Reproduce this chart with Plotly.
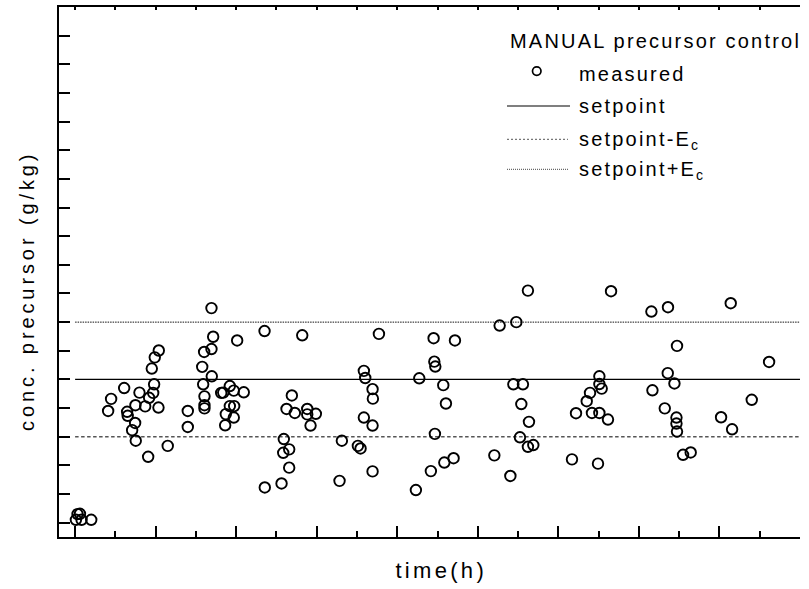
import plotly.graph_objects as go

# ---------------- data ----------------
time_h = [
    0.01, 0.08, 0.20, 0.03, 0.06,
    0.41, 0.447, 0.609, 0.646, 0.653, 0.708, 0.745, 0.753, 0.749, 0.799,
    0.870, 0.907, 0.919, 0.952, 0.969, 0.981, 0.989, 1.039, 1.035, 1.150,
    1.399, 1.399, 1.578, 1.590, 1.606, 1.606, 1.606, 1.602, 1.693, 1.714,
    1.697, 1.693, 1.814, 1.839, 1.863, 1.871, 1.921, 1.921, 1.970, 1.975,
    1.970, 2.012, 2.094, 2.352, 2.355,
    2.563, 2.591, 2.584, 2.658, 2.658, 2.625, 2.691, 2.728, 2.820, 2.882,
    2.882, 2.923, 2.989, 3.283, 3.312, 3.511, 3.544, 3.585, 3.585, 3.602,
    3.693, 3.697, 3.693, 3.693, 3.772, 4.231, 4.273, 4.417, 4.451, 4.460,
    4.472, 4.467, 4.571, 4.604, 4.584, 4.699, 4.716, 5.205, 5.271, 5.404,
    5.478, 5.441, 5.560, 5.540, 5.523, 5.622, 5.635, 5.622, 5.689,
    6.654, 6.169, 6.219, 6.352, 6.393, 6.417, 6.492, 6.509, 6.509, 6.538,
    6.509, 6.616, 7.155, 7.361, 7.168, 7.358, 7.441, 7.473, 7.321, 7.466,
    7.466, 7.473, 7.548, 7.643, 8.140, 8.020, 8.157, 8.401, 8.616,
]
conc_measured = [
    1.10, 1.10, 1.10, 1.30, 1.31,
    4.90, 5.32, 5.70, 4.87, 4.73, 4.23, 4.48, 3.86, 5.10, 5.54,
    5.06, 3.30, 5.36, 6.38, 5.53, 5.83, 6.77, 7.01, 5.02, 3.68,
    4.90, 4.34, 6.44, 5.83, 5.41, 5.10, 4.99, 6.96, 7.06, 7.49,
    6.11, 8.49, 5.53, 5.54, 4.40, 4.79, 5.77, 5.07, 5.61, 5.07,
    4.67, 7.36, 5.55, 7.69, 2.23,
    2.37, 3.92, 3.44, 3.56, 2.92, 4.97, 5.44, 4.83, 7.54, 4.97,
    4.78, 4.39, 4.80, 2.46, 3.86, 3.68, 3.59, 4.67, 6.30, 6.05,
    5.66, 5.33, 4.39, 2.79, 7.59, 2.14, 6.04, 2.80, 7.44, 6.62,
    6.45, 4.10, 5.80, 5.16, 3.10, 3.25, 7.36, 3.35, 7.88, 2.63,
    8.00, 5.83, 5.83, 5.14, 3.98, 9.10, 4.52, 3.65, 3.71,
    9.08, 3.21, 4.82, 5.24, 5.53, 4.83, 3.06, 6.11, 5.84, 5.68,
    4.83, 4.60, 8.37, 8.52, 5.62, 6.22, 5.86, 7.17, 4.99, 4.67,
    4.46, 4.18, 3.37, 3.45, 8.66, 4.68, 4.26, 5.29, 6.61,
]
setpoint_value = 6.0
ec_value = 2.0
line_time = [0.0, 9.0]

legend_title = "MANUAL precursor control"
series_names = ["measured", "setpoint", "setpoint-E<sub>c</sub>", "setpoint+E<sub>c</sub>"]
x_title = "time(h)"
y_title = "conc. precursor (g/kg)"

FONT = "Liberation Sans, Arial, sans-serif"

# ---------------- figure ----------------
fig = go.Figure()

fig.add_trace(go.Scatter(
    x=line_time, y=[setpoint_value] * len(line_time), mode="lines",
    name="setpoint", line=dict(color="black", width=1.2), showlegend=False,
    hoverinfo="skip"))
fig.add_trace(go.Scatter(
    x=line_time, y=[setpoint_value - ec_value] * len(line_time), mode="lines",
    name="setpoint-Ec", line=dict(color="#555555", width=1.5, dash="3.5px,2.5px"),
    showlegend=False, hoverinfo="skip"))
fig.add_trace(go.Scatter(
    x=line_time, y=[setpoint_value + ec_value] * len(line_time), mode="lines",
    name="setpoint+Ec", line=dict(color="#111111", width=1.0, dash="1.5px,1px"),
    showlegend=False, hoverinfo="skip"))
fig.add_trace(go.Scatter(
    x=time_h, y=conc_measured, mode="markers", name="measured",
    marker=dict(symbol="circle-open", size=10.5, color="black",
                line=dict(width=1.9, color="black")),
    showlegend=False))

# ---------------- geometry helpers for the hand-drawn legend ----------------
W, H = 809, 589
ML, MR, MT, MB = 59, 9, 7, 52
PW, PH = W - ML - MR, H - MT - MB


def px_x(p):
    return (p - ML) / PW


def px_y(p):
    return (H - MB - p) / PH


annotations = []
shapes = []

annotations.append(dict(
    text=legend_title, xref="paper", yref="paper", x=px_x(508), y=px_y(41),
    xanchor="left", yanchor="middle", align="left", showarrow=False,
    font=dict(family=FONT, size=20, color="black")))

text_left = px_x(577)
row_y = [74, 106, 140, 170]
for name, yy in zip(series_names, row_y):
    annotations.append(dict(
        text=name, xref="paper", yref="paper", x=text_left, y=px_y(yy),
        xanchor="left", yanchor="middle", align="left", showarrow=False,
        font=dict(family=FONT, size=20, color="black")))

# axis titles (placed as annotations to match the reference position)
annotations.append(dict(
    text=y_title, xref="paper", yref="paper", x=px_x(27), y=px_y(291),
    xanchor="center", yanchor="middle", textangle=-90, showarrow=False,
    font=dict(family=FONT, size=20, color="black")))
ytitle_idx = len(annotations) - 1
annotations.append(dict(
    text=x_title, xref="paper", yref="paper", x=px_x(441), y=px_y(570),
    xanchor="center", yanchor="middle", showarrow=False,
    font=dict(family=FONT, size=22, color="black")))
xtitle_idx = len(annotations) - 1

# legend symbol samples
shapes.append(dict(type="circle", xref="paper", yref="paper",
                   x0=px_x(532.5), x1=px_x(541), y0=px_y(75.3), y1=px_y(66.8),
                   line=dict(color="black", width=1.7)))
shapes.append(dict(type="line", xref="paper", yref="paper",
                   x0=px_x(507), x1=px_x(570), y0=px_y(106), y1=px_y(106),
                   line=dict(color="black", width=1.2)))
shapes.append(dict(type="line", xref="paper", yref="paper",
                   x0=px_x(507), x1=px_x(568), y0=px_y(139.3), y1=px_y(139.3),
                   line=dict(color="#555555", width=1.0, dash="2px,2px")))
shapes.append(dict(type="line", xref="paper", yref="paper",
                   x0=px_x(507), x1=px_x(568), y0=px_y(169.3), y1=px_y(169.3),
                   line=dict(color="#444444", width=1.0, dash="1px,1px")))

fig.update_layout(
    width=W, height=H,
    margin=dict(l=ML, r=MR, t=MT, b=MB, pad=0),
    paper_bgcolor="white", plot_bgcolor="white",
    font=dict(family=FONT, color="black"),
    showlegend=False,
    annotations=annotations,
    shapes=shapes,
    xaxis=dict(
        range=[-0.2, 9.0], showgrid=False, zeroline=False,
        showline=True, linecolor="black", linewidth=2, mirror=False,
        ticks="inside", tick0=0, dtick=1, ticklen=11, tickwidth=2, tickcolor="black",
        minor=dict(ticks="inside", dtick=0.5, ticklen=6, tickwidth=2, tickcolor="black"),
        showticklabels=False,
    ),
    xaxis2=dict(
        overlaying="x", side="top", anchor="y", range=[-0.2, 9.0],
        showgrid=False, zeroline=False,
        showline=True, linecolor="black", linewidth=2,
        ticks="inside", tick0=0, dtick=1, ticklen=3, tickwidth=1.5, tickcolor="black",
        minor=dict(ticks="inside", dtick=0.5, ticklen=3, tickwidth=1.5, tickcolor="black"),
        showticklabels=False,
    ),
    yaxis=dict(
        range=[0.5, 19.0], showgrid=False, zeroline=False,
        showline=True, linecolor="black", linewidth=2, mirror=False,
        ticks="inside", tick0=1, dtick=1, ticklen=11, tickwidth=2, tickcolor="black",
        showticklabels=False,
    ),
)

# an invisible helper trace so the top axis is drawn
fig.add_trace(go.Scatter(x=line_time, y=[setpoint_value] * len(line_time), xaxis="x2",
                         mode="lines", line=dict(width=0, color="rgba(0,0,0,0)"),
                         showlegend=False, hoverinfo="skip"))

post = """
var st = document.createElement('style');
st.textContent = '.annotation-text{letter-spacing:2.2px}' +
                 '.annotation[data-index="%d"] .annotation-text{letter-spacing:3.9px}' +
                 '.annotation[data-index="%d"] .annotation-text{letter-spacing:3.3px}';
document.head.appendChild(st);
""" % (ytitle_idx, xtitle_idx)

fig.write_html("out.html", post_script=post)
